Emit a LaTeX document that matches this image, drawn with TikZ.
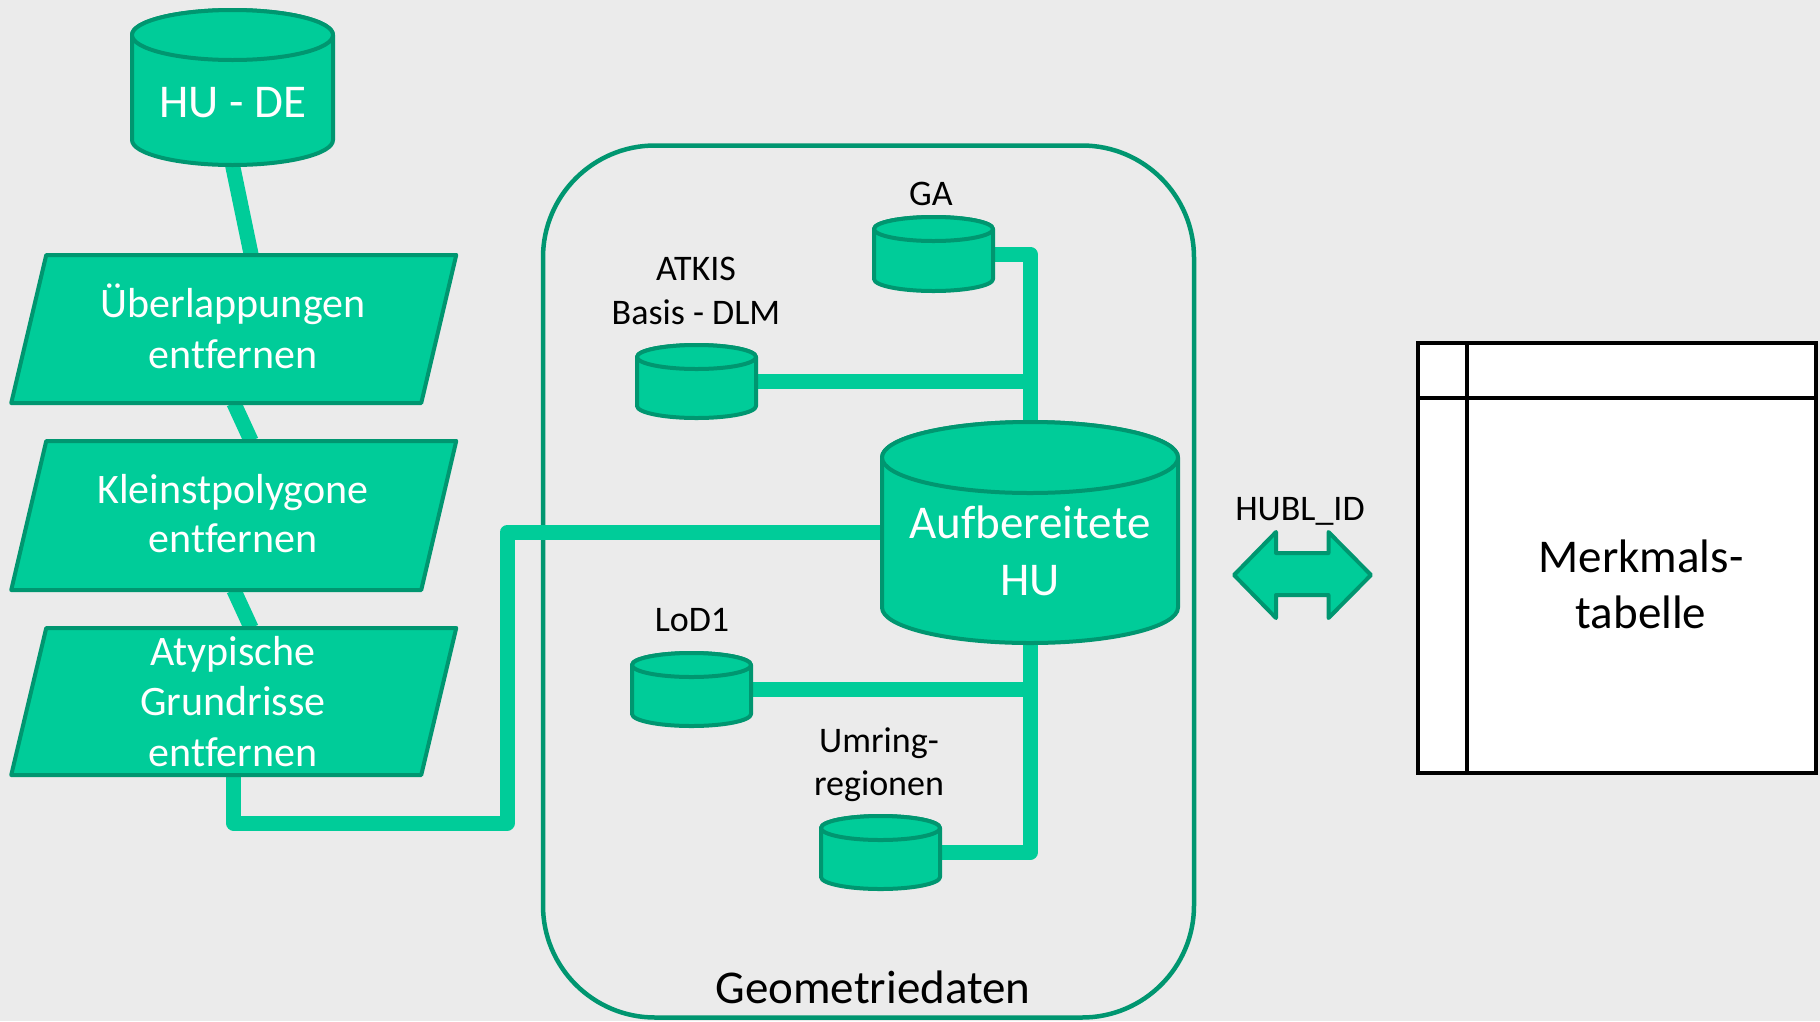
\documentclass[tikz,border=0pt]{standalone}
\usepackage{fontspec}
\setmainfont{Carlito}[Ligatures={NoCommon}]
\usetikzlibrary{calc}
\pgfdeclarelayer{bg}
\pgfdeclarelayer{lines}
\pgfsetlayers{bg,lines,main}
\definecolor{gfill}{RGB}{0,204,153}
\definecolor{gdark}{RGB}{0,150,112}
\definecolor{bggray}{RGB}{235,235,235}
\tikzset{
  conn/.style={draw=gfill, line width=15pt, line join=round},
  shapeline/.style={draw=gdark, fill=gfill, line width=4pt, line join=round},
  anchorbox/.style={inner sep=0pt, outer sep=0pt, draw=none},
  bigw/.style={font=\fontsize{47}{57}\selectfont, text=white, inner sep=0pt, anchor=base},
  midw/.style={font=\fontsize{42}{51}\selectfont, text=white, inner sep=0pt, anchor=base},
  smallb/.style={font=\fontsize{36}{44}\selectfont, text=black, inner sep=0pt, anchor=base},
  bigb/.style={font=\fontsize{47}{57}\selectfont, text=black, inner sep=0pt, anchor=base},
  tabline/.style={draw=black, line width=4.5pt},
}
% cylinder: name, cx, cy top ellipse, cy bottom ellipse, half width, ry
\newcommand\dbcyl[6]{%
  \path[shapeline] (#2-#5,#3) -- (#2-#5,#4)
     arc[start angle=180, end angle=0, x radius=#5, y radius=#6]
     -- (#2+#5,#3)
     arc[start angle=0, end angle=-180, x radius=#5, y radius=#6] -- cycle;
  \draw[shapeline] (#2,#3) ellipse[x radius=#5, y radius=#6];
  \node[anchorbox, minimum width={2*#5}, minimum height={#4-#3+2*#6}] (#1) at ({#2},{(#3+#4)/2}) {};
}
% parallelogram: name, cx, ytop, ybot
\newcommand\procbox[4]{%
  \path[shapeline] (#2-187.5,#3) -- (#2+222.5,#3) -- (#2+187.5,#4) -- (#2-222.5,#4) -- cycle;
  \node[anchorbox, minimum width=445, minimum height={#4-#3}] (#1) at ({#2},{(#3+#4)/2}) {};
}
\begin{document}
\begin{tikzpicture}[x=1pt,y=-1pt]
\useasboundingbox (0,0) rectangle (1820,1021);
\begin{pgfonlayer}{bg}
  \fill[bggray] (0,0) rectangle (1820,1021);
  \node[anchorbox, draw=gdark, line width=4.5pt, rounded corners=112pt,
        minimum width=651, minimum height=872] (geo) at (868.5,581.5) {};
\end{pgfonlayer}

% left process chain
\dbcyl{hude}{232.5}{35}{140}{100.5}{25}
\node[bigw] (hudet) at (232.5,117) {HU - DE};
\procbox{p1}{233.75}{255}{403}
\node[midw] (p1a) at (233,317) {Überlappungen};
\node[midw] (p1b) at (233,368) {entfernen};
\procbox{p2}{233.75}{441}{590}
\node[midw] (p2a) at (233,503) {Kleinstpolygone};
\node[midw] (p2b) at (233,552) {entfernen};
\procbox{p3}{233.75}{628}{775}
\node[midw] (p3a) at (233,665) {Atypische};
\node[midw] (p3b) at (233,715.5) {Grundrisse};
\node[midw] (p3c) at (233,766) {entfernen};

% geometry data
\dbcyl{ga}{933.5}{229}{279}{59.5}{12}
\node[smallb] (gat) at (931,205) {GA};
\dbcyl{atkis}{696.5}{357}{406}{59.5}{12}
\node[smallb] (atkisa) at (696,280) {ATKIS};
\node[smallb] (atkisb) at (696,324) {Basis - DLM};
\dbcyl{aufb}{1030}{457.5}{607.5}{148}{35.5}
\node[bigw] (aufba) at (1030,538) {Aufbereitete};
\node[bigw] (aufbb) at (1030,595) {HU};
\dbcyl{lod}{691.5}{665}{714}{59.5}{12}
\node[smallb] (lodt) at (692,631) {LoD1};
\dbcyl{umr}{880.5}{828}{877}{59.5}{12}
\node[smallb] (umra) at (879,752) {Umring-};
\node[smallb] (umrb) at (879,795) {regionen};
\node[bigb] (geot) at (873,1003) {Geometriedaten};

% connectors
\coordinate (k1) at (507,823);
\begin{pgfonlayer}{lines}
  \draw[conn] (hude.south) -- ([xshift=17.5pt]p1.north);
  \draw[conn] (p1.south) -- ([xshift=17.5pt]p2.north);
  \draw[conn] (p2.south) -- ([xshift=17.5pt]p3.north);
  \draw[conn] (p3.south) |- (k1) |- (aufb.west);
  \draw[conn] (ga.east) -| (aufb.north);
  \draw[conn] (atkis.east) -- (atkis.east -| aufb.north);
  \draw[conn] (lod.east) -- (lod.east -| aufb.south);
  \draw[conn] (aufb.south) |- (umr.east);
\end{pgfonlayer}

% double arrow
\path[shapeline] (1234,575) -- (1276,532) -- (1276,553) -- (1328.5,553) -- (1328.5,532)
  -- (1371,575) -- (1328.5,618) -- (1328.5,595) -- (1276,595) -- (1276,618) -- cycle;
\node[anchorbox, minimum width=137, minimum height=86] (idarrow) at (1302.5,575) {};
\node[smallb] (hubl) at (1300,520) {HUBL\_ID};

% table
\node[anchorbox, draw=black, fill=white, line width=4.5pt, minimum width=398, minimum height=430] (tab) at (1617,558) {};
\draw[tabline] ([xshift=49pt]tab.north west) -- ([xshift=49pt]tab.south west);
\draw[tabline] ([yshift=-55pt]tab.north west) -- ([yshift=-55pt]tab.north east);
\node[bigb] (tm1) at (1641,572) {Merkmals-};
\node[bigb] (tm2) at (1641,628) {tabelle};
\end{tikzpicture}
\end{document}
